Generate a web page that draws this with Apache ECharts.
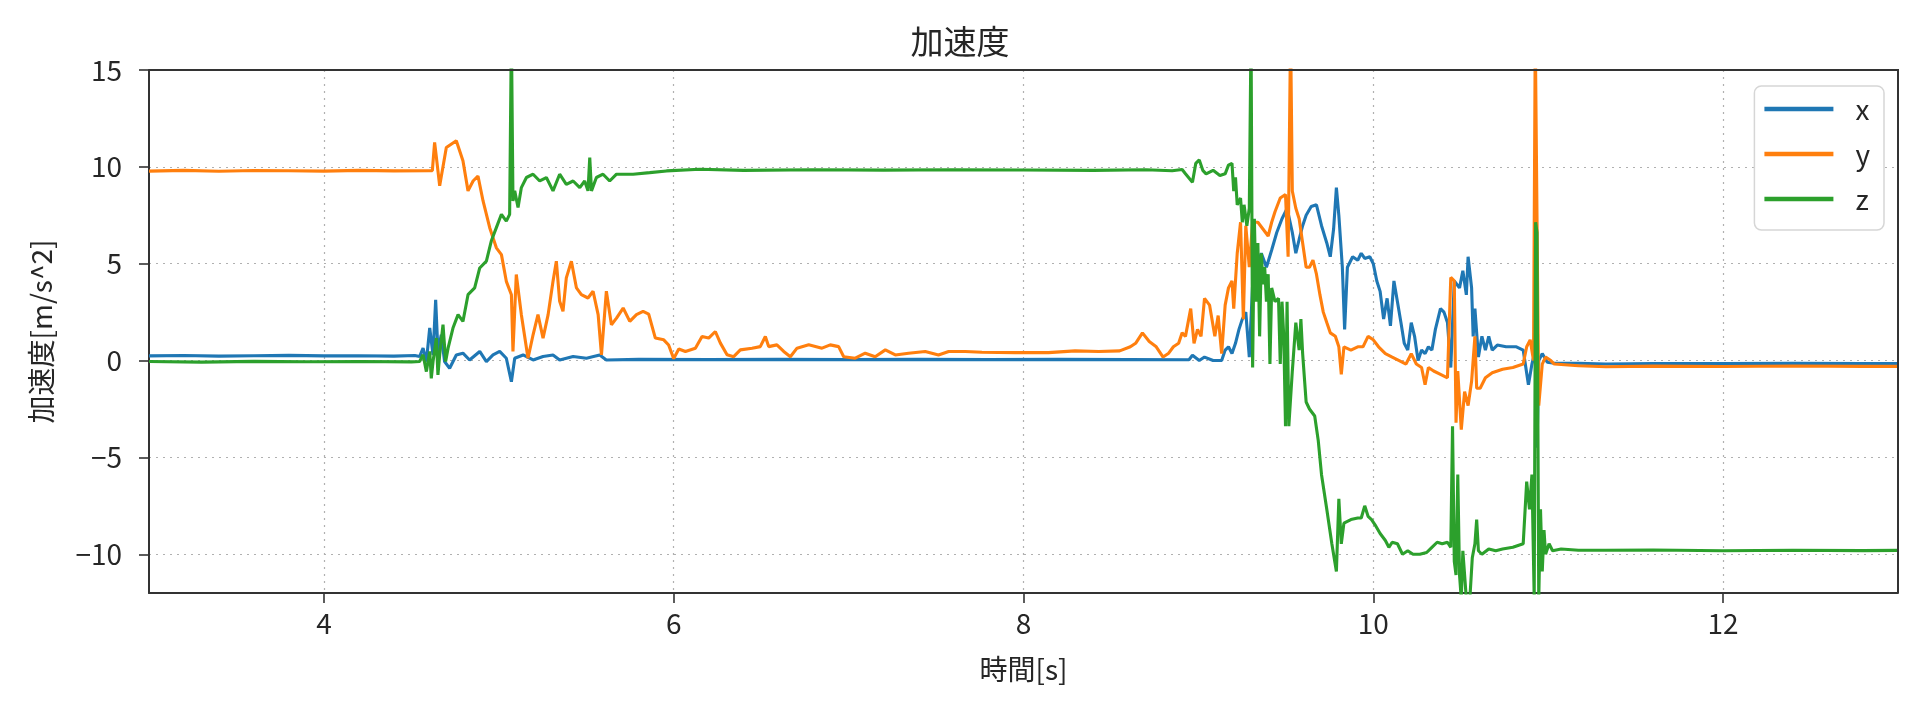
<!DOCTYPE html>
<html>
<head>
<meta charset="utf-8">
<script src="https://cdn.jsdelivr.net/npm/echarts@6/dist/echarts.min.js"></script>
<style>
html,body{margin:0;padding:0;background:#fff;}
#chart{width:1920px;height:709px;}
</style>
</head>
<body>
<div id="chart"></div>
<script>
// Tick labels
const xTicks = [4, 6, 8, 10, 12];
const yTicks = [-10, -5, 0, 5, 10, 15];
const seriesNames = ['x', 'y', 'z'];

// Series x (blue)
const xTime = [3.0,3.2,3.4,3.6,3.8,4.0,4.2,4.4,4.52,
4.547,4.567,4.586,4.605,4.624,4.639,4.652,4.671,4.69,4.719,4.757,4.795,4.833,4.891,4.929,4.967,5.005,5.043,5.072,5.091,5.139,5.196,5.253,5.31,5.348,5.425,5.501,5.577,5.615,
5.8,6.2,6.6,7.0,7.4,7.8,8.2,8.6,8.946,
8.966,9.005,9.035,9.084,9.133,9.153,9.172,9.192,9.212,9.232,9.251,9.271,9.291,9.31,9.33,9.36,9.389,9.419,9.448,9.478,9.507,9.537,9.557,9.576,9.596,9.616,9.645,9.675,9.704,9.734,9.754,9.773,9.789,9.803,9.823,9.836,9.852,9.882,9.911,
9.931,9.951,9.98,10.0,10.02,10.039,10.059,10.079,10.098,10.118,10.138,10.158,10.177,10.197,10.217,10.236,10.256,10.276,10.296,10.315,10.335,10.355,10.384,10.404,10.424,10.443,10.463,10.493,10.512,10.532,10.542,10.562,10.571,10.581,10.601,10.621,10.641,10.66,10.68,10.709,10.759,10.818,10.857,10.887,10.907,10.926,10.936,10.946,10.966,10.995,11.035,11.173,
11.33,11.6,12.0,12.4,12.8,13.0];
const xVal = [0.24,0.26,0.23,0.25,0.27,0.24,0.25,0.23,0.26,
0.21,0.64,-0.05,1.68,0.29,3.14,0.47,1.33,-0.05,-0.4,0.29,0.38,0.03,0.47,-0.05,0.29,0.47,0.12,-1.09,0.12,0.29,0.03,0.21,0.29,0.03,0.21,0.12,0.29,0.03,
0.06,0.05,0.06,0.05,0.06,0.05,0.06,0.05,0.04,
0.27,0.0,0.18,0.0,0.0,0.54,0.71,0.36,0.89,1.61,2.14,2.5,0.18,3.93,4.82,5.54,4.82,5.71,6.61,7.32,7.86,6.61,5.54,6.25,6.96,7.5,7.95,8.04,6.96,6.07,5.36,6.79,8.93,7.5,4.82,1.61,4.82,5.36,5.18,
5.54,5.27,5.36,5.0,4.11,3.57,2.14,3.21,1.79,4.11,3.04,1.96,0.89,0.54,1.96,1.25,0.0,0.54,0.36,0.71,0.54,1.61,2.68,2.5,1.96,-0.36,4.11,3.75,4.64,3.39,5.36,3.75,1.25,2.68,0.18,1.25,0.54,1.25,0.54,0.8,0.71,0.71,0.54,-1.25,-0.18,0.54,-4.5,0.0,0.36,-0.09,-0.14,-0.14,
-0.18,-0.15,-0.16,-0.14,-0.16,-0.15];

// Series y (orange)
const yTime = [3.0,3.2,3.4,3.6,3.8,4.0,4.2,4.4,4.6,4.62,
4.633,4.643,4.662,4.70,4.757,4.795,4.824,4.853,4.881,4.91,4.948,4.986,5.015,5.043,5.072,5.081,5.10,5.129,5.167,5.196,5.224,5.253,5.282,5.31,5.329,5.348,5.367,5.386,5.415,5.444,5.472,5.51,5.539,5.568,5.587,5.615,5.644,5.673,5.711,5.749,5.787,5.825,5.857,5.895,5.943,5.971,
6.0,6.029,6.067,6.124,6.162,6.2,6.238,6.267,6.305,6.343,6.381,6.448,6.495,6.524,6.543,6.59,6.629,6.667,6.705,6.772,6.848,6.895,6.943,6.972,7.038,7.095,7.152,7.21,7.267,7.343,7.438,7.514,7.572,7.667,7.762,7.953,8.143,8.295,8.43,8.55,
8.611,8.641,8.68,8.719,8.759,8.798,8.828,8.857,8.887,8.907,8.926,8.956,8.975,8.995,9.015,9.035,9.064,9.094,9.113,9.133,9.153,9.172,9.192,9.202,9.222,9.241,9.257,9.271,9.291,9.31,9.34,9.369,9.399,9.419,9.438,9.468,9.498,9.513,9.527,9.537,9.557,9.576,9.596,9.616,9.635,9.655,9.675,9.695,9.714,9.734,9.754,9.783,9.803,9.817,9.832,9.872,9.911,
9.941,9.97,10.0,10.03,10.069,10.108,10.148,10.187,10.217,10.246,10.276,10.296,10.315,10.345,10.384,10.424,10.443,10.463,10.473,10.483,10.503,10.522,10.542,10.562,10.581,10.591,10.611,10.641,10.68,10.739,10.798,10.857,10.877,10.897,10.916,10.926,10.946,10.966,10.985,11.015,11.035,11.173,
11.33,11.6,12.0,12.4,12.8,13.0];
const yVal = [9.78,9.82,9.77,9.81,9.8,9.78,9.82,9.79,9.8,9.8,
11.26,10.5,9.02,11.0,11.35,10.31,8.76,9.27,9.53,8.24,6.86,5.82,5.47,4.09,3.4,0.47,4.44,2.37,0.12,1.33,2.37,1.16,2.37,4.09,5.13,3.06,2.54,4.27,5.13,3.75,3.4,3.23,3.58,2.37,0.29,3.58,1.85,2.19,2.71,2.02,2.37,2.54,2.4,1.16,1.07,0.8,
0.1,0.6,0.47,0.64,1.24,1.16,1.5,0.9,0.3,0.2,0.55,0.64,0.72,1.24,0.72,0.81,0.47,0.2,0.64,0.81,0.64,0.81,0.72,0.2,0.12,0.38,0.2,0.55,0.29,0.38,0.47,0.29,0.47,0.47,0.43,0.41,0.41,0.5,0.47,0.5,
0.71,0.89,1.43,0.98,0.71,0.18,0.36,0.71,0.89,1.43,1.25,2.68,0.89,1.61,1.25,3.21,2.86,1.25,2.32,0.36,2.86,3.75,4.11,2.68,5.54,7.14,2.14,6.96,4.82,7.14,7.14,6.79,6.43,7.14,7.68,8.39,8.57,5.36,17,8.75,7.86,7.32,6.07,4.82,4.82,5.18,4.46,3.39,2.5,1.96,1.43,1.25,0.71,-0.71,0.71,0.54,0.71,
0.71,1.25,1.07,0.71,0.36,0.18,0.0,-0.18,0.36,-0.18,-0.36,-1.25,-0.36,-0.54,-0.71,-0.89,4.29,4.11,-3.21,-0.54,-3.57,-1.61,-2.32,-1.07,1.25,-1.43,-1.43,-0.89,-0.63,-0.45,-0.36,-0.18,0.71,1.07,0.0,17,-2.32,-0.18,0.18,0.0,-0.18,-0.27,
-0.32,-0.29,-0.31,-0.28,-0.3,-0.3];

// Series z (green)
const zTime = [3.0,3.3,3.6,3.9,4.2,4.5,
4.547,4.567,4.586,4.605,4.614,4.624,4.643,4.652,4.662,4.681,4.696,4.71,4.738,4.767,4.795,4.824,4.862,4.891,4.929,4.957,4.986,5.015,5.043,5.062,5.072,5.081,5.091,5.11,5.129,5.158,5.196,5.234,5.272,5.31,5.348,5.386,5.425,5.463,5.491,5.51,5.52,5.53,5.558,5.596,5.634,5.673,5.768,5.863,5.959,6.149,
6.4,6.8,7.2,7.6,8.0,8.4,8.7,8.85,
8.907,8.926,8.966,8.985,9.005,9.025,9.044,9.084,9.123,9.153,9.172,9.192,9.202,9.212,9.222,9.241,9.251,9.261,9.277,9.291,9.301,9.31,9.32,9.33,9.34,9.35,9.36,9.369,9.379,9.389,9.399,9.409,9.419,9.438,9.458,9.468,9.478,9.488,9.498,9.507,9.517,9.537,9.557,9.576,9.586,9.596,9.616,9.635,9.665,9.685,9.704,9.734,9.763,9.789,9.803,9.817,9.832,9.872,9.911,
9.931,9.951,9.97,9.99,10.01,10.039,10.069,10.089,10.108,10.138,10.167,10.197,10.227,10.266,10.305,10.335,10.365,10.394,10.424,10.443,10.453,10.463,10.473,10.483,10.493,10.503,10.512,10.532,10.552,10.566,10.581,10.591,10.601,10.621,10.66,10.7,10.739,10.798,10.857,10.877,10.893,10.907,10.92,10.928,10.936,10.946,10.956,10.966,10.976,10.985,11.005,11.025,11.074,11.173,
11.33,11.6,12.0,12.4,12.8,13.0];
const zVal = [-0.05,-0.08,-0.04,-0.06,-0.05,-0.07,
-0.05,0.3,-0.57,0.47,-0.92,-0.05,1.16,-0.74,0.3,1.85,-0.05,0.64,1.68,2.37,2.02,3.4,3.75,4.78,5.13,6.17,6.86,7.55,7.2,7.55,17,8.24,8.76,7.9,8.93,9.45,9.62,9.27,9.45,8.76,9.62,9.1,9.27,8.93,9.27,8.76,10.48,8.76,9.45,9.62,9.27,9.62,9.62,9.7,9.79,9.88,
9.82,9.85,9.83,9.85,9.84,9.82,9.85,9.8,
9.86,9.64,9.2,10.18,10.36,9.82,9.64,9.82,9.55,9.64,10.09,10.18,8.75,9.46,8.04,8.39,7.14,8.04,6.96,7.86,17,-0.36,7.32,3.04,6.07,1.25,5.54,3.93,4.82,3.04,4.46,-0.18,3.75,3.04,3.21,-0.18,3.04,1.25,-3.39,3.04,-3.39,-0.54,1.96,0.54,2.14,0.36,-2.14,-2.5,-2.86,-4.11,-5.89,-7.68,-9.46,-10.89,-7.14,-9.46,-8.39,-8.21,-8.13,
-8.13,-7.5,-8.04,-8.21,-8.48,-8.93,-9.29,-9.64,-9.38,-9.46,-10.0,-9.82,-10.0,-10.0,-9.91,-9.64,-9.38,-9.46,-9.38,-9.64,-3.39,-10.36,-11.07,-5.89,-11.07,-12.3,-9.82,-12.3,-12.3,-10.18,-9.46,-8.21,-9.82,-10.0,-9.73,-9.82,-9.73,-9.64,-9.46,-6.25,-7.68,-5.89,-12.3,7.14,6.61,-12.3,-7.68,-10.89,-8.75,-10.0,-9.46,-9.82,-9.73,-9.79,
-9.79,-9.78,-9.82,-9.79,-9.81,-9.8];

function pairs(ts, vs) { return ts.map((t, i) => [t, vs[i]]); }

const FONT = '"Noto Sans CJK JP", "Noto Sans", sans-serif';
const TXT = '#262626';
const LW = 3.1;
const chart = echarts.init(document.getElementById('chart'), null, {renderer: 'canvas'});
const gridLine = {show: true, lineStyle: {color: '#b0b0b0', width: 1.2, type: [2, 5]}};

chart.setOption({
  animation: false,
  backgroundColor: '#ffffff',
  title: {
    text: '加速度', left: 'center', top: 20,
    textStyle: {fontFamily: FONT, fontSize: 33, fontWeight: 'normal', color: TXT}
  },
  legend: {
    orient: 'vertical', right: 36, top: 86,
    data: seriesNames,
    icon: 'rect', itemWidth: 69, itemHeight: 4.5, itemGap: 15,
    padding: [8, 14, 16, 10],
    backgroundColor: '#ffffff', borderColor: '#d6d6d6', borderWidth: 1.5, borderRadius: 7,
    textStyle: {fontFamily: FONT, fontSize: 28, color: TXT, lineHeight: 30, padding: [0, 0, 0, 17]}
  },
  grid: {left: 149, right: 22, top: 70, bottom: 116, containLabel: false},
  xAxis: {
    type: 'value', min: 3, max: 13,
    name: '時間[s]', nameLocation: 'middle', nameGap: 62,
    nameTextStyle: {fontFamily: FONT, fontSize: 28, color: TXT},
    axisLine: {show: true, onZero: false, lineStyle: {color: '#333', width: 2}},
    axisTick: {show: true, length: 10, inside: false, customValues: xTicks, lineStyle: {color: '#333', width: 1.6}},
    axisLabel: {fontFamily: FONT, fontSize: 28, color: TXT, margin: 16, customValues: xTicks},
    splitLine: gridLine
  },
  yAxis: {
    type: 'value', min: -12, max: 15,
    name: '加速度[m/s^2]', nameLocation: 'middle', nameGap: 94, nameRotate: 90,
    nameTextStyle: {fontFamily: FONT, fontSize: 28, color: TXT},
    axisLine: {show: true, onZero: false, lineStyle: {color: '#333', width: 2}},
    axisTick: {show: true, length: 10, inside: false, customValues: yTicks, lineStyle: {color: '#333', width: 1.6}},
    axisLabel: {fontFamily: FONT, fontSize: 28, color: TXT, margin: 27, customValues: yTicks,
      formatter: v => (v < 0 ? '\u2212' + Math.abs(v) : String(v))},
    splitLine: gridLine
  },
  series: [
    {name: 'x', type: 'line', data: pairs(xTime, xVal), showSymbol: false, symbol: 'none', clip: true,
     lineStyle: {color: '#1f77b4', width: LW}, itemStyle: {color: '#1f77b4'}},
    {name: 'y', type: 'line', data: pairs(yTime, yVal), showSymbol: false, symbol: 'none', clip: true,
     lineStyle: {color: '#ff7f0e', width: LW}, itemStyle: {color: '#ff7f0e'}},
    {name: 'z', type: 'line', data: pairs(zTime, zVal), showSymbol: false, symbol: 'none', clip: true,
     lineStyle: {color: '#2ca02c', width: LW}, itemStyle: {color: '#2ca02c'}}
  ]
});
// top and right frame lines of the plot box
const gridRect = chart.getModel().getComponent('grid').coordinateSystem.getRect();
chart.setOption({
  graphic: [{
    type: 'polyline', silent: true, z: 10,
    shape: {points: [[gridRect.x, gridRect.y], [gridRect.x + gridRect.width, gridRect.y], [gridRect.x + gridRect.width, gridRect.y + gridRect.height]]},
    style: {stroke: '#333', lineWidth: 2, fill: null}
  }]
});
</script>
</body>
</html>
